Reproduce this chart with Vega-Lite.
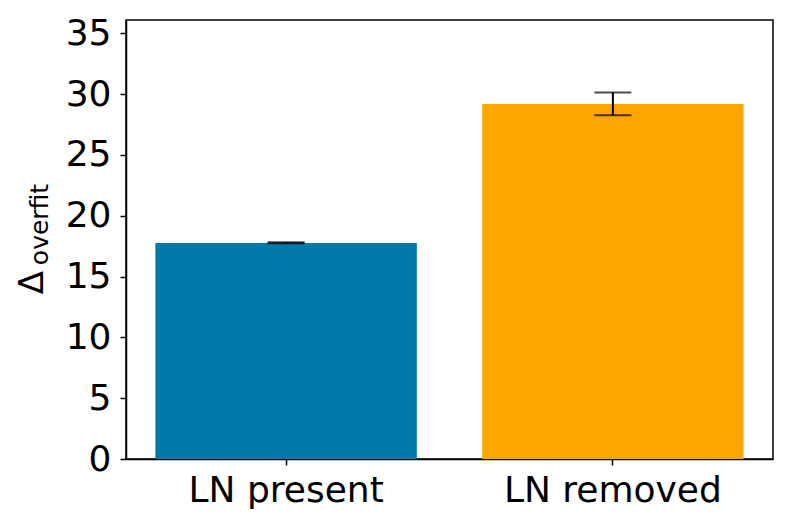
{
  "$schema": "https://vega.github.io/schema/vega-lite/v6.json",
  "width": 647,
  "height": 439,
  "autosize": {"type": "none"},
  "padding": {"left": 126, "top": 20, "right": 20, "bottom": 70},
  "background": "white",
  "config": {
    "font": "DejaVu Sans",
    "view": {"stroke": "black", "strokeWidth": 1.5},
    "axis": {
      "domainColor": "black", "domainWidth": 1.5,
      "tickColor": "black", "tickWidth": 1.5, "tickSize": 6,
      "labelColor": "black", "labelFont": "DejaVu Sans", "labelFontSize": 36, "labelLimit": 0,
      "titleColor": "black", "titleFont": "DejaVu Sans", "titleFontWeight": "normal",
      "grid": false
    }
  },
  "data": {
    "values": [
      {"cond": "LN present", "mean": 17.77, "lo": 17.74, "hi": 17.82, "col": "#0179A8"},
      {"cond": "LN removed", "mean": 29.2, "lo": 28.27, "hi": 30.13, "col": "#FFA500"}
    ]
  },
  "resolve": {"axis": {"y": "independent"}},
  "layer": [
    {
      "mark": {"type": "bar"},
      "encoding": {
        "x": {
          "field": "cond", "type": "nominal", "sort": null,
          "scale": {"paddingInner": 0.2, "paddingOuter": 0.09},
          "axis": {"title": null, "labelAngle": 0, "labelPadding": 8}
        },
        "y": {
          "field": "mean", "type": "quantitative",
          "scale": {"domain": [0, 36.1], "nice": false, "zero": true},
          "axis": {
            "orient": "left",
            "values": [0, 5, 10, 15, 20, 25, 30, 35],
            "labelPadding": 9,
            "title": "Δ", "titleFontSize": 34,
            "titleAngle": 270, "titleAlign": "center", "titleBaseline": "alphabetic",
            "titleX": -84, "titleY": 262
          }
        },
        "color": {"field": "col", "type": "nominal", "scale": null}
      }
    },
    {
      "mark": {"type": "rule", "color": "black", "strokeWidth": 2},
      "encoding": {
        "x": {"field": "cond", "type": "nominal", "sort": null},
        "y": {
          "field": "lo", "type": "quantitative",
          "axis": {
            "orient": "left",
            "labels": false, "ticks": false, "domain": false,
            "title": "overfit", "titleFontSize": 25,
            "titleAngle": 270, "titleAlign": "center", "titleBaseline": "alphabetic",
            "titleX": -79, "titleY": 204
          }
        },
        "y2": {"field": "hi"}
      }
    },
    {
      "mark": {"type": "tick", "color": "black", "thickness": 2, "size": 37},
      "encoding": {
        "x": {"field": "cond", "type": "nominal", "sort": null},
        "y": {"field": "lo", "type": "quantitative", "axis": null}
      }
    },
    {
      "mark": {"type": "tick", "color": "black", "thickness": 2, "size": 37},
      "encoding": {
        "x": {"field": "cond", "type": "nominal", "sort": null},
        "y": {"field": "hi", "type": "quantitative", "axis": null}
      }
    }
  ]
}
